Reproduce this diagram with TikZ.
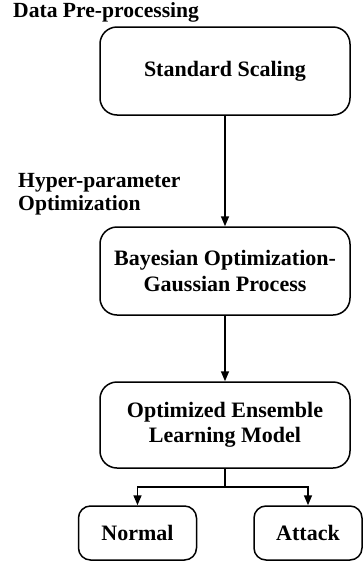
\documentclass[tikz,border=0pt]{standalone}
\usepackage{fontspec}
\setmainfont{Liberation Serif}
\usetikzlibrary{arrows.meta}
\tikzset{
	box/.style={draw, line width=1.5pt, rounded corners=17pt, minimum width=250pt, minimum height=88pt, align=center, font=\fontsize{22}{25.5}\selectfont\bfseries},
	leaf/.style={box, rounded corners=12pt, minimum width=118pt, minimum height=54pt},
	label/.style={inner sep=0pt, align=left, font=\fontsize{21.6}{23}\selectfont\bfseries},
	flow/.style={-{Triangle[length=10pt,width=8pt]}, line width=1.5pt}
}
\begin{document}
\begin{tikzpicture}[x=1pt, y=1pt]
	\useasboundingbox (0, 0) rectangle (363, -563);
	% stages
	\node[box] (scaling) at (225, -71) {Standard Scaling};
	\node[box] (bayes) at (225, -271) {Bayesian Optimization-\\Gaussian Process};
	\node[box, minimum height=86pt] (model) at (225, -425) {Optimized Ensemble\\Learning Model};
	\node[leaf] (normal) at (137.5, -533) {Normal};
	\node[leaf, minimum width=108pt] (attack) at (308, -533) {Attack};
	% side labels
	\node[label, anchor=base west] (prep) at (13, -17) {Data Pre-processing};
	\node[label, anchor=west] (hyper) at (18, -194) {Hyper-parameter\\Optimization};
	% arrows
	\draw[flow] (scaling) -- (bayes);
	\draw[flow] (bayes) -- (model);
	\coordinate (split) at (225, -487);
	\draw[line width=1.5pt] (model.south) -- (split);
	\draw[flow] (split) -| (normal.north);
	\draw[flow] (split) -| (attack.north);
\end{tikzpicture}
\end{document}
